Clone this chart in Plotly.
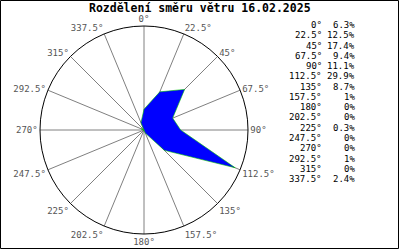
import plotly.graph_objects as go

W, H = 400, 250

title_text = "Rozdělení směru větru 16.02.2025"
directions = [0, 22.5, 45, 67.5, 90, 112.5, 135, 157.5, 180, 202.5, 225, 247.5, 270, 292.5, 315, 337.5]
percents = [6.3, 12.5, 17.4, 9.4, 11.1, 29.9, 8.7, 1, 0, 0, 0.3, 0, 0, 1, 0, 2.4]
tick_labels = [f"{d:g}°" for d in directions]
pct_labels = [f"{p:g}%" for p in percents]

MONO = "DejaVu Sans Mono, Liberation Mono, monospace"

fig = go.Figure()
fig.add_trace(go.Scatterpolar(
    r=percents + [percents[0]],
    theta=directions + [directions[0]],
    mode="lines",
    fill="toself",
    fillcolor="#0000ff",
    line=dict(color="#00c000", width=0.6),
    hoverinfo="skip",
))

# polar area in pixels: center (144,130), radius 104
cx, cy, R = 144, 130, 104
fig.update_layout(
    width=W, height=H,
    margin=dict(l=0, r=0, t=0, b=0),
    paper_bgcolor="white",
    showlegend=False,
    polar=dict(
        domain=dict(x=[(cx - R) / W, (cx + R) / W], y=[1 - (cy + R) / H, 1 - (cy - R) / H]),
        bgcolor="white",
        radialaxis=dict(range=[0, 31.5], visible=False, showgrid=False),
        angularaxis=dict(
            direction="clockwise",
            rotation=90,
            tickmode="array",
            tickvals=directions,
            ticktext=tick_labels,
            ticks="",
            showgrid=True,
            gridcolor="#808080",
            gridwidth=1,
            showline=True,
            linecolor="black",
            linewidth=1,
            tickfont=dict(family=MONO, size=9, color="#555555"),
        ),
    ),
)

annotations = [dict(
    text="<b>" + title_text + "</b>", x=0.5, y=1 - 8 / H, xref="paper", yref="paper",
    xanchor="center", yanchor="middle", showarrow=False,
    font=dict(family=MONO, size=11.5, color="black"),
)]
for i, (dl, pl) in enumerate(zip(tick_labels, pct_labels)):
    yc = 25 + i * 10.27
    annotations.append(dict(
        text=dl, x=323.5 / W, y=1 - yc / H, xref="paper", yref="paper",
        xanchor="right", yanchor="middle", showarrow=False,
        font=dict(family=MONO, size=9, color="black"),
    ))
    annotations.append(dict(
        text=pl, x=356.5 / W, y=1 - yc / H, xref="paper", yref="paper",
        xanchor="right", yanchor="middle", showarrow=False,
        font=dict(family=MONO, size=9, color="black"),
    ))
fig.update_layout(annotations=annotations)

fig.add_shape(type="rect", xref="paper", yref="paper",
              x0=0.5 / W, x1=398.5 / W, y0=1 - 248.5 / H, y1=1 - 0.5 / H,
              line=dict(color="black", width=1), fillcolor="rgba(0,0,0,0)")

fig.write_html("out.html")
